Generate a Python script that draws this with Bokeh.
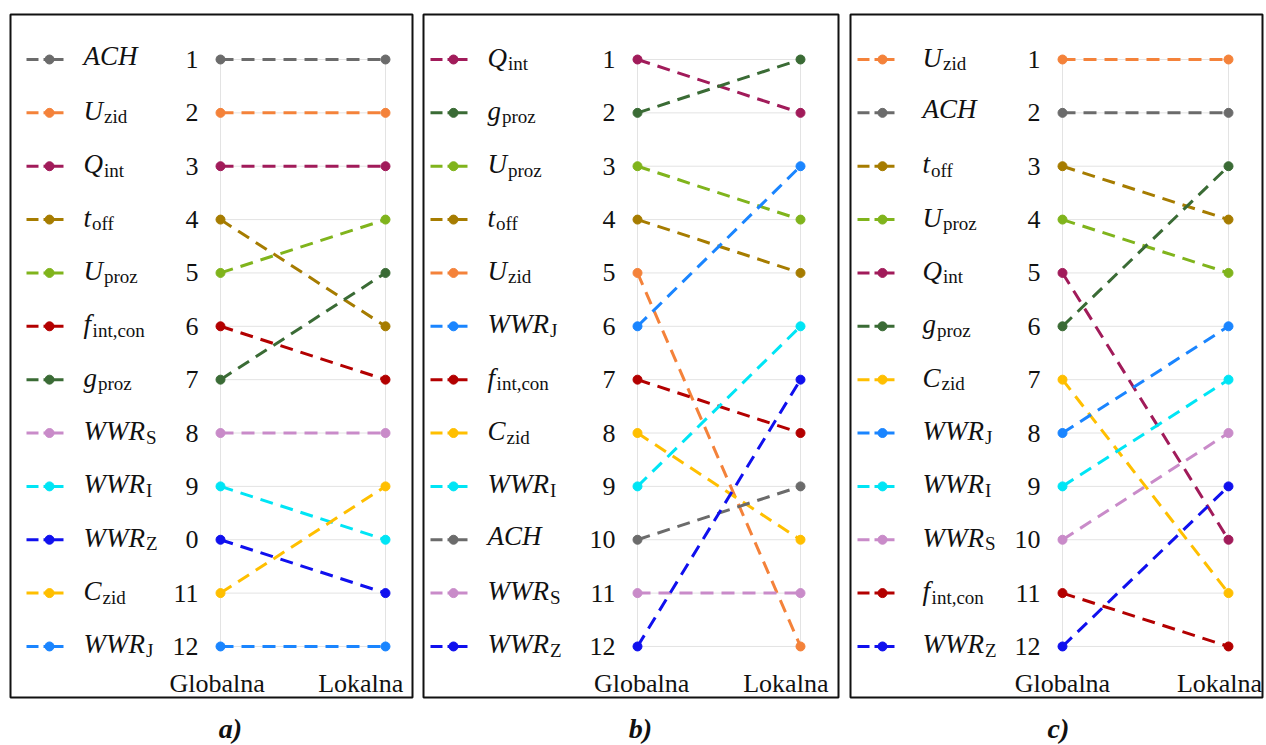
from bokeh.plotting import figure
from bokeh.models import Range1d, LinearAxis, FixedTicker
from bokeh.layouts import row, column
from bokeh.embed import file_html
from bokeh.resources import INLINE
from bokeh.core.properties import value

# ---------------- data ----------------
columns = ["Globalna", "Lokalna"]

# parameter label: (italic main part, upright subscript)
names = {
    "ACH": ("ACH", ""), "Uzid": ("U", "zid"), "Qint": ("Q", "int"),
    "toff": ("t", "off"), "Uproz": ("U", "proz"), "fint": ("f", "int,con"),
    "gproz": ("g", "proz"), "WWRS": ("WWR", "S"), "WWRI": ("WWR", "I"),
    "WWRZ": ("WWR", "Z"), "Czid": ("C", "zid"), "WWRJ": ("WWR", "J"),
}
colors = {
    "ACH": "#6b6b6b", "Uzid": "#f4823a", "Qint": "#a11b5a", "toff": "#a67c00",
    "Uproz": "#80b41c", "fint": "#b30000", "gproz": "#3a6b35", "WWRS": "#c98bc9",
    "WWRI": "#00e5f5", "WWRZ": "#1010ee", "Czid": "#ffbf00", "WWRJ": "#1a85ff",
}

a_params = ["ACH", "Uzid", "Qint", "toff", "Uproz", "fint", "gproz", "WWRS", "WWRI", "WWRZ", "Czid", "WWRJ"]
a_global = [1, 2, 3, 4, 5, 6, 7, 8, 9, 10, 11, 12]
a_local = [1, 2, 3, 6, 4, 7, 5, 8, 10, 11, 9, 12]
a_ticks = ["1", "2", "3", "4", "5", "6", "7", "8", "9", "0", "11", "12"]

b_params = ["Qint", "gproz", "Uproz", "toff", "Uzid", "WWRJ", "fint", "Czid", "WWRI", "ACH", "WWRS", "WWRZ"]
b_global = [1, 2, 3, 4, 5, 6, 7, 8, 9, 10, 11, 12]
b_local = [2, 1, 4, 5, 12, 3, 8, 10, 6, 9, 11, 7]
b_ticks = ["1", "2", "3", "4", "5", "6", "7", "8", "9", "10", "11", "12"]

c_params = ["Uzid", "ACH", "toff", "Uproz", "Qint", "gproz", "Czid", "WWRJ", "WWRI", "WWRS", "fint", "WWRZ"]
c_global = [1, 2, 3, 4, 5, 6, 7, 8, 9, 10, 11, 12]
c_local = [1, 2, 4, 5, 10, 3, 11, 6, 7, 8, 12, 9]
c_ticks = ["1", "2", "3", "4", "5", "6", "7", "8", "9", "10", "11", "12"]

captions = ["a)", "b)", "c)"]

# ---------------- style / layout ----------------
SERIF = "Liberation Serif, Times New Roman, serif"
MAIN_PX = 27
SUB_PX = 19
EM_ITALIC = {"A": .611, "C": .667, "H": .722, "U": .722, "Q": .722, "t": .278,
             "f": .30, "g": .5, "W": .833, "R": .611}
FRAME_H = 683
TOP = 14
BOTTOM = 2
KY = 53.36           # px per rank
ROW1 = 45            # px from frame top to rank 1


def make_panel(params, glob, loc, ticks, W, G, K, leg, lab_ticks, mleft):
    x0 = -G / K
    x1 = (W - G) / K
    ytop = 1 - ROW1 / KY
    ybot = ytop + FRAME_H / KY
    p = figure(width=W + mleft + 2, height=FRAME_H + TOP + BOTTOM,
               x_range=Range1d(x0, x1), y_range=Range1d(ybot, ytop),
               min_border_left=mleft, min_border_right=2, min_border_top=TOP,
               min_border_bottom=BOTTOM, output_backend="svg", toolbar_location=None,
               x_axis_type=None, y_axis_type=None)
    p.outline_line_color = "#111111"
    p.outline_line_width = 2
    p.outline_line_alpha = 1
    p.background_fill_color = "white"
    p.border_fill_color = "white"

    def dx(px):
        return px / K

    def dy(px):
        return px / KY

    ranks = list(range(1, 13))
    # grid lines inside the slope area
    p.segment(x0=[0] * 12, y0=ranks, x1=[1] * 12, y1=ranks, line_color="#e3e3e3", line_width=1)
    p.segment(x0=[0, 1], y0=[1, 1], x1=[0, 1], y1=[12, 12], line_color="#e3e3e3", line_width=1)

    # slopes
    for name, g, l in zip(params, glob, loc):
        c = colors[name]
        p.line([0, 1], [g, l], line_color=c, line_width=3, line_dash="13 8")
        p.scatter([0, 1], [g, l], size=9, fill_color=c, line_color=c)

    # legend drawn in data space at the rank rows
    lx0, lx1, lm, lt = leg
    mains, subs, mx, sx, my, sy, ly, cols = [], [], [], [], [], [], [], []
    for i, name in enumerate(params):
        r = i + 1
        c = colors[name]
        main, sub = names[name]
        p.line([dx(lx0 - G), dx(lx1 - G)], [r, r], line_color=c, line_width=3,
               line_dash="12 5 20 100")
        ly.append(r)
        cols.append(c)
        mains.append(main)
        mx.append(dx(lt - G))
        if sub:
            w = sum(EM_ITALIC.get(ch, .6) for ch in main) * MAIN_PX
            my.append(r + dy(-2))
            subs.append(sub)
            sx.append(dx(lt - G + w + 1))
            sy.append(r + dy(4))
        else:
            my.append(r + dy(-4))
    p.scatter([dx(lm - G)] * 12, ly, size=9, fill_color=cols, line_color=cols)
    p.text(x=mx, y=my, text=mains, text_font=value(SERIF), text_font_style="italic",
           text_font_size=f"{MAIN_PX}px", text_baseline="alphabetic", text_align="left",
           text_color="#111111")
    p.text(x=sx, y=sy, text=subs, text_font=value(SERIF), text_font_style="normal",
           text_font_size=f"{SUB_PX}px", text_baseline="alphabetic", text_align="left",
           text_color="#111111")

    # rank axis right next to the first column
    yax = LinearAxis(ticker=FixedTicker(ticks=ranks),
                     major_label_overrides={r: t for r, t in zip(ranks, ticks)},
                     fixed_location=dx(-22), axis_line_color=None,
                     major_tick_line_color=None, minor_tick_line_color=None,
                     major_tick_out=0, major_tick_in=0, major_label_standoff=0,
                     major_label_text_font=SERIF, major_label_text_font_size="26px",
                     major_label_text_color="#111111")
    p.add_layout(yax, "left")

    # column axis
    gx, lxp = lab_ticks
    xax = LinearAxis(ticker=FixedTicker(ticks=[gx, lxp]),
                     major_label_overrides={gx: columns[0], lxp: columns[1]},
                     fixed_location=12.42, axis_line_color=None,
                     major_tick_line_color=None, minor_tick_line_color=None,
                     major_tick_out=0, major_tick_in=0, major_label_standoff=0,
                     major_label_text_font=SERIF, major_label_text_font_size="26px",
                     major_label_text_color="#111111")
    p.add_layout(xax, "below")
    return p


pa = make_panel(a_params, a_global, a_local, a_ticks,
                402, 210, 165, (16, 53, 39, 73), (-0.02, 0.85), 10)
pb = make_panel(b_params, b_global, b_local, b_ticks,
                415, 214, 163, (7, 45, 30, 64), (0.025, 0.91), 2)
pc = make_panel(c_params, c_global, c_local, c_ticks,
                412, 212, 166, (7, 45, 32, 72), (0.0, 0.946), 3)

# caption strip under the three panels
CAP_W, CAP_H = 1264, 46
cap = figure(width=CAP_W, height=CAP_H, x_range=Range1d(0, CAP_W), y_range=Range1d(CAP_H, 0),
             min_border=0, output_backend="svg", toolbar_location=None,
             x_axis_type=None, y_axis_type=None)
cap.outline_line_color = None
cap.background_fill_color = "white"
cap.border_fill_color = "white"
cap.text(x=[230, 640, 1058], y=[29, 29, 29], text=captions, text_font=value(SERIF),
         text_font_style="bold italic", text_font_size="28px", text_align="center",
         text_baseline="middle", text_color="#111111")

layout = column(row(pa, pb, pc, spacing=7), cap, spacing=0)
open("out.html", "w").write(file_html(layout, INLINE))
